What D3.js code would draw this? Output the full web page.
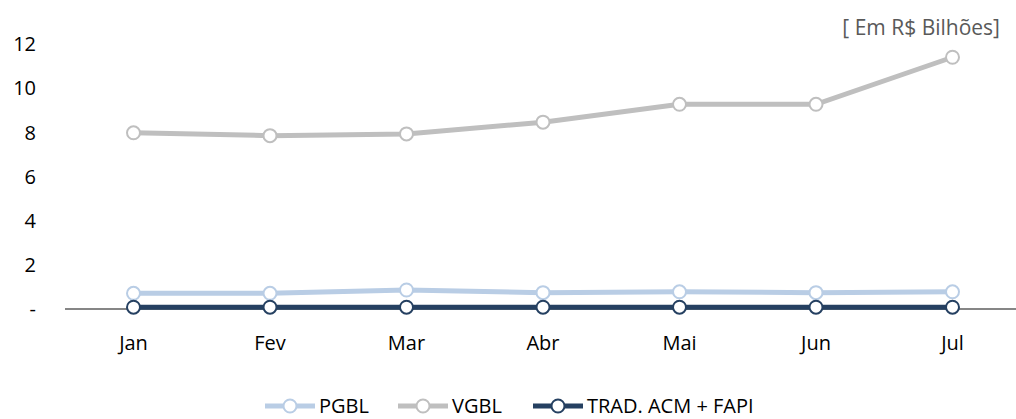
<!DOCTYPE html>
<html>
<head>
<meta charset="utf-8">
<script src="https://cdn.jsdelivr.net/npm/d3@7"></script>
<style>
  body { margin: 0; background: #fff; }
  text { font-family: "Open Sans", sans-serif; }
</style>
</head>
<body>
<script>
// valores mensais, em R$ bilhoes
var months = ["Jan", "Fev", "Mar", "Abr", "Mai", "Jun", "Jul"];
var pgbl = [0.71, 0.71, 0.86, 0.74, 0.78, 0.74, 0.78];
var vgbl = [7.98, 7.85, 7.93, 8.46, 9.27, 9.27, 11.4];
var trad = [0.08, 0.08, 0.08, 0.08, 0.08, 0.08, 0.08];
var yTicks = [0, 2, 4, 6, 8, 10, 12];

var width = 1016,
    height = 419;

var svg = d3.select("body")
  .append("svg")
  .attr("width", width)
  .attr("height", height);

var x = d3.scalePoint()
  .domain(months)
  .range([133.5, 952.5]);

var y = d3.scaleLinear()
  .domain([0, 12])
  .range([309, 44]);

// eixo x (linha base)
svg.append("line")
  .attr("x1", 65).attr("x2", width)
  .attr("y1", y(0)).attr("y2", y(0))
  .attr("stroke", "#868686")
  .attr("stroke-width", 2);

// rotulos eixo y
svg.append("g")
  .selectAll("text")
  .data(yTicks)
  .enter().append("text")
    .attr("x", 36)
    .attr("y", function(d) { return y(d); })
    .attr("dy", "0.36em")
    .attr("text-anchor", "end")
    .attr("font-size", 20)
    .attr("fill", "#000")
    .text(function(d) { return d === 0 ? "-" : d; });

// rotulos eixo x
svg.append("g")
  .selectAll("text")
  .data(months)
  .enter().append("text")
    .attr("x", function(d) { return x(d); })
    .attr("y", 350)
    .attr("text-anchor", "middle")
    .attr("font-size", 20)
    .attr("fill", "#000")
    .text(function(d) { return d; });

svg.append("text")
  .attr("x", 1000)
  .attr("y", 35)
  .attr("text-anchor", "end")
  .attr("font-size", 21)
  .attr("fill", "#595959")
  .text("[ Em R$ Bilhões]");

var series = [
  { name: "PGBL", values: pgbl, color: "#B9CDE5" },
  { name: "VGBL", values: vgbl, color: "#BFBFBF" },
  { name: "TRAD. ACM + FAPI", values: trad, color: "#254061" }
];

var line = d3.line()
  .x(function(d, i) { return x(months[i]); })
  .y(function(d) { return y(d); });

series.forEach(function(s) {
  svg.append("path")
    .datum(s.values)
    .attr("fill", "none")
    .attr("stroke", s.color)
    .attr("stroke-width", 5)
    .attr("d", line);

  svg.append("g")
    .selectAll("circle")
    .data(s.values)
    .enter().append("circle")
      .attr("cx", function(d, i) { return x(months[i]); })
      .attr("cy", function(d) { return y(d); })
      .attr("r", 6.5)
      .attr("fill", "#fff")
      .attr("stroke", s.color)
      .attr("stroke-width", 2);
});

// legenda
var legendX = [265, 398, 533];
var lg = svg.append("g")
  .selectAll("g")
  .data(series)
  .enter().append("g")
    .attr("transform", function(d, i) { return "translate(" + legendX[i] + ",406)"; });

lg.append("line")
  .attr("x1", 0).attr("x2", 50)
  .attr("stroke", function(d) { return d.color; })
  .attr("stroke-width", 5);

lg.append("circle")
  .attr("cx", 25)
  .attr("r", 6.5)
  .attr("fill", "#fff")
  .attr("stroke", function(d) { return d.color; })
  .attr("stroke-width", 2);

lg.append("text")
  .attr("x", 54)
  .attr("y", 7)
  .attr("font-size", 20)
  .attr("fill", "#000")
  .text(function(d) { return d.name; });
</script>
</body>
</html>
